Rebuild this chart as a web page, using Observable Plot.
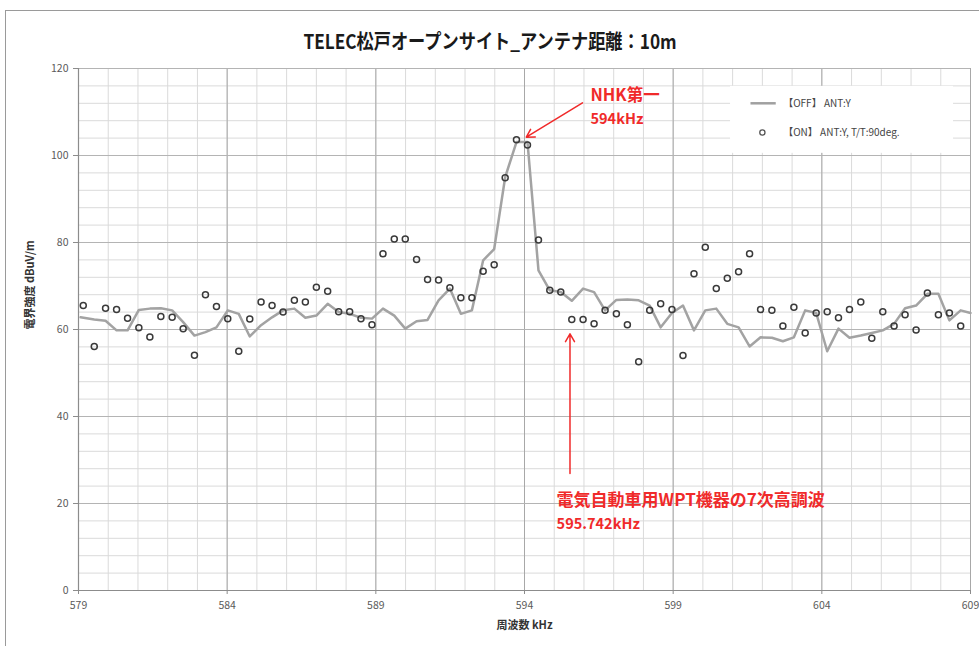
<!DOCTYPE html>
<html><head><meta charset="utf-8">
<script src="https://cdn.jsdelivr.net/npm/d3@7"></script>
<script src="https://cdn.jsdelivr.net/npm/@observablehq/plot@0.6"></script>
<style>
body{margin:0;background:#fff;font-family:"Noto Sans CJK JP","Noto Sans",sans-serif;}
#wrap{position:relative;width:979px;height:646px;overflow:hidden;background:#fff;}
#frame{position:absolute;left:5px;top:10px;width:1000px;height:700px;border:1.5px solid #9a9a9a;box-sizing:border-box;}
#title{position:absolute;left:0;top:26px;width:979px;text-align:center;}
#title span{display:inline-block;font-weight:bold;font-size:20px;color:#1a1a1a;transform:scaleX(0.86);transform-origin:center;white-space:nowrap;}
#chart{position:absolute;left:0;top:60px;}
</style></head>
<body>
<div id="wrap">
  <div id="frame"></div>
  <div id="title"><span>TELEC松戸オープンサイト_アンテナ距離：10m</span></div>
  <div id="chart"></div>
</div>
<script>
// Measurement frequencies (kHz)
const freq = [579.16,579.53,579.91,580.28,580.65,581.03,581.40,581.77,582.15,582.52,
  582.90,583.27,583.64,584.02,584.39,584.76,585.14,585.51,585.88,586.26,
  586.63,587.00,587.38,587.75,588.12,588.50,588.87,589.24,589.62,589.99,
  590.37,590.74,591.11,591.49,591.86,592.23,592.61,592.98,593.35,593.73,
  594.10,594.47,594.85,595.22,595.59,595.97,596.34,596.71,597.09,597.46,
  597.84,598.21,598.58,598.96,599.33,599.70,600.08,600.45,600.82,601.20,
  601.57,601.94,602.32,602.69,603.06,603.44,603.81,604.18,604.56,604.93,
  605.31,605.68,606.05,606.43,606.80,607.17,607.55,607.92,608.29,608.67];
// 【ON】 ANT:Y, T/T:90deg. (dBuV/m)
const onLevel = [65.5,56.1,64.9,64.6,62.6,60.4,58.3,63.0,62.8,60.2,
  54.1,68.0,65.3,62.5,55.0,62.4,66.3,65.5,64.0,66.7,
  66.3,69.7,68.8,64.1,64.1,62.5,61.1,77.4,80.8,80.8,
  76.1,71.5,71.4,69.6,67.3,67.3,73.4,74.9,94.9,103.6,
  102.4,80.6,69.0,68.6,62.3,62.3,61.3,64.4,63.6,61.1,
  52.6,64.4,65.9,64.6,54.0,72.8,78.9,69.4,71.8,73.3,
  77.4,64.6,64.4,60.8,65.1,59.2,63.8,64.1,62.7,64.6,
  66.3,58.0,64.1,60.8,63.4,59.9,68.4,63.4,63.8,60.8];
// 【OFF】 ANT:Y frequencies and levels
const offFreq = [579.07,579.53,579.91,580.28,580.65,581.03,581.40,581.77,582.15,582.52,
  582.90,583.27,583.64,584.02,584.39,584.76,585.14,585.51,585.88,586.26,
  586.63,587.00,587.38,587.75,588.12,588.50,588.87,589.24,589.62,589.99,
  590.37,590.74,591.11,591.49,591.86,592.23,592.61,592.98,593.35,593.73,
  594.10,594.47,594.85,595.22,595.59,595.97,596.34,596.71,597.09,597.46,
  597.84,598.21,598.58,598.96,599.33,599.70,600.08,600.45,600.82,601.20,
  601.57,601.94,602.32,602.69,603.06,603.44,603.81,604.18,604.56,604.93,
  605.31,605.68,606.05,606.43,606.80,607.17,607.55,607.92,608.29,608.67,609.0];
const offLevel = [62.8,62.3,62.0,59.8,59.8,64.5,64.8,64.9,64.4,61.7,
  58.6,59.4,60.5,64.4,63.6,58.4,61.0,62.8,64.4,64.8,
  62.7,63.2,65.9,64.0,63.6,62.7,62.5,64.8,63.2,60.2,
  61.9,62.2,66.7,69.4,63.6,64.4,75.9,78.5,95.0,103.1,
  103.1,73.6,69.0,68.6,66.6,69.4,68.6,64.4,66.8,66.9,
  66.7,65.5,60.5,63.8,65.5,59.8,64.4,64.8,61.3,60.5,
  56.1,58.2,58.1,57.3,58.2,64.4,63.8,55.0,60.2,58.1,
  58.6,59.2,59.8,61.3,64.9,65.5,68.2,68.2,62.1,64.4,63.8];
const xTicks = [579,584,589,594,599,604,609];
const yTicks = [0,20,40,60,80,100,120];
const xMinor = d3.range(579,610,1);
const yMinor = d3.range(0,121,4);
const seriesNames = ["【OFF】 ANT:Y","【ON】 ANT:Y, T/T:90deg."];
const xLabel = "周波数 kHz";
const yLabel = "電界強度 dBuV/m";
const annoTexts = ["NHK第一","594kHz","電気自動車用WPT機器の7次高調波","595.742kHz"];

const onData = freq.map((f,i)=>({f, v:onLevel[i]}));
const offData = offFreq.map((f,i)=>({f, v:offLevel[i]}));
const red = "#f02a2a";

const chart = Plot.plot({
  width: 979, height: 586,
  marginLeft: 78, marginRight: 9, marginTop: 8, marginBottom: 56,
  x: {domain:[579,609]},
  y: {domain:[0,120]},
  style: {fontFamily:'"Noto Sans CJK JP","Noto Sans",sans-serif', fontSize:"10.5px", color:"#5a5a5a", background:"transparent", overflow:"visible"},
  marks: [
    Plot.gridX(xMinor, {stroke:"#dadada", strokeOpacity:1}),
    Plot.gridY(yMinor, {stroke:"#dadada", strokeOpacity:1}),
    Plot.gridX(xTicks, {stroke:"#a8a8a8", strokeOpacity:1}),
    Plot.gridY(yTicks, {stroke:"#b4b4b4", strokeOpacity:1}),
    Plot.axisX({ticks:xTicks, tickSize:4, tickPadding:7, tickFormat:d=>String(d), label:null, stroke:"#8c8c8c"}),
    Plot.axisY({ticks:yTicks, tickSize:5, tickPadding:5, tickFormat:d=>String(d), label:null, stroke:"#8c8c8c"}),
    Plot.text([xLabel], {frameAnchor:"bottom", dy:38, text:d=>d, fontSize:11, fontWeight:"bold", fill:"#333"}),
    Plot.text([yLabel], {frameAnchor:"left", dx:-48, rotate:-90, text:d=>d, fontSize:11, fontWeight:"bold", fill:"#333"}),
    Plot.ruleX([579], {stroke:"#8c8c8c", strokeWidth:1.2}),
    Plot.ruleY([0], {stroke:"#8c8c8c", strokeWidth:1.2}),
    // legend
    Plot.rect([0], {x1:[600.93], x2:[608.43], y1:[100.5], y2:[115.9], fill:"white"}),
    Plot.link([0], {x1:[601.6], x2:[602.45], y1:[112.0], y2:[112.0], stroke:"#a0a0a0", strokeWidth:2.5}),
    Plot.dot([0], {x:[602.0], y:[105.3], r:2.6, stroke:"#555", strokeWidth:1.3, fill:"none"}),
    Plot.text(seriesNames, {x:[602.7,602.7], y:[112.0,105.3], text:d=>d, textAnchor:"start", fontSize:10, fill:"#444"}),
    // data
    Plot.line(offData, {x:"f", y:"v", stroke:"#a3a3a3", strokeWidth:2.5}),
    Plot.dot(onData, {x:"f", y:"v", r:3, stroke:"#3a3a3a", strokeWidth:1.5, fill:"none"}),
    // annotations
    Plot.arrow([0], {x1:[595.95], y1:[112.1], x2:[594.06], y2:[104.2], stroke:red, strokeWidth:1.5, headLength:9}),
    Plot.arrow([0], {x1:[595.53], y1:[26.9], x2:[595.53], y2:[59.0], stroke:red, strokeWidth:1.5, headLength:9}),
    Plot.text([annoTexts[0]], {x:[596.22], y:[113.8], text:d=>d, textAnchor:"start", fontSize:16.5, fontWeight:"bold", fill:red}),
    Plot.text([annoTexts[1]], {x:[596.22], y:[108.4], text:d=>d, textAnchor:"start", fontSize:14.5, fontWeight:"bold", fill:red}),
    Plot.text([annoTexts[2]], {x:[595.08], y:[20.6], text:d=>d, textAnchor:"start", fontSize:17, fontWeight:"bold", fill:red}),
    Plot.text([annoTexts[3]], {x:[595.08], y:[15.1], text:d=>d, textAnchor:"start", fontSize:14.5, fontWeight:"bold", fill:red})
  ]
});
document.getElementById("chart").append(chart);
</script>
</body></html>
